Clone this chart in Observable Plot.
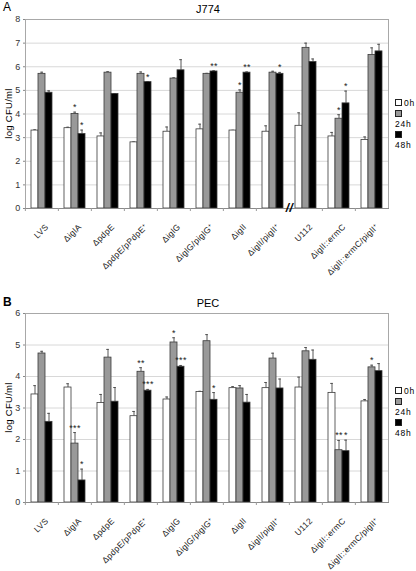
<!DOCTYPE html>
<html><head><meta charset="utf-8">
<script src="https://cdn.jsdelivr.net/npm/d3@7"></script>
<script src="https://cdn.jsdelivr.net/npm/@observablehq/plot@0.6"></script>
<style>
body{margin:0;background:#fff;font-family:"Liberation Sans",Arial,sans-serif;}
#wrap{position:relative;width:416px;height:571px;overflow:hidden;}
.abs{position:absolute;white-space:nowrap;color:#000;}
.panel{position:absolute;left:0;}
.leg{position:absolute;font-size:8.5px;letter-spacing:0.8px;line-height:10.5px;}
.leg span.sq{display:inline-block;width:5px;height:5px;border:1px solid #222;margin-right:2px;vertical-align:0px;}
.ylab{position:absolute;font-size:9.5px;transform:rotate(-90deg);transform-origin:center;letter-spacing:0.3px;}
</style></head>
<body><div id="wrap"></div>
<script>
const groups = ["LVS","ΔiglA","ΔpdpE","ΔpdpE/pPdpE⁺","ΔiglG","ΔiglG/piglG⁺","ΔiglI","ΔiglI/piglI⁺","U112","ΔiglI::ermC","ΔiglI::ermC/piglI⁺"];
const times = ["0h","24h","48h"];

// Panel A: J774
const j774_0h  = [3.3, 3.4, 3.05, 2.8, 3.25, 3.35, 3.3, 3.25, 3.5, 3.05, 2.9];
const j774_24h = [5.7, 4.0, 5.75, 5.7, 5.5, 5.7, 4.9, 5.75, 6.8, 3.8, 6.5];
const j774_48h = [4.9, 3.15, 4.85, 5.35, 5.85, 5.8, 5.75, 5.7, 6.2, 4.45, 6.65];
const j774_err0h  = [0.03, 0.04, 0.15, 0.02, 0.2, 0.22, 0.01, 0.25, 0.55, 0.17, 0.13];
const j774_err24h = [0.07, 0.08, 0.04, 0.08, 0.03, 0.02, 0.12, 0.06, 0.2, 0.17, 0.3];
const j774_err48h = [0.08, 0.17, 0.01, 0.02, 0.45, 0.03, 0.03, 0.06, 0.13, 0.52, 0.3];
const j774_sig24h = ["", "*", "", "", "", "", "*", "", "", "*", ""];
const j774_sig48h = ["", "*", "", "*", "", "**", "**", "*", "", "*", ""];
const j774_yTicks = [0,1,2,3,4,5,6,7,8];

// Panel B: PEC
const pec_0h  = [3.43, 3.65, 3.16, 2.74, 3.27, 3.51, 3.63, 3.63, 3.65, 3.48, 3.21];
const pec_24h = [4.73, 1.87, 4.6, 4.15, 5.08, 5.12, 3.62, 4.57, 4.8, 1.66, 4.29];
const pec_48h = [2.56, 0.7, 3.2, 3.55, 4.31, 3.26, 3.17, 3.62, 4.53, 1.63, 4.17];
const pec_err0h  = [0.28, 0.12, 0.27, 0.15, 0.08, 0.02, 0.05, 0.18, 0.33, 0.3, 0.06];
const pec_err24h = [0.07, 0.35, 0.26, 0.13, 0.15, 0.21, 0.09, 0.17, 0.12, 0.31, 0.07];
const pec_err48h = [0.27, 0.36, 0.45, 0.04, 0.04, 0.23, 0.26, 0.3, 0.31, 0.35, 0.24];
const pec_sig24h = ["", "***", "", "**", "*", "", "", "", "", "**", "*"];
const pec_sig48h = ["", "*", "", "***", "***", "*", "", "", "", "*", ""];
const pec_yTicks = [0,1,2,3,4,5,6];

const fills = ["#ffffff", "#999999", "#000000"];

function rowsOf(m0, m24, m48, e0, e24, e48, s24, s48) {
  const rows = [];
  groups.forEach((g, i) => {
    rows.push({group: g, time: "0h", value: m0[i], err: e0[i], sig: ""});
    rows.push({group: g, time: "24h", value: m24[i], err: e24[i], sig: s24[i]});
    rows.push({group: g, time: "48h", value: m48[i], err: e48[i], sig: s48[i]});
  });
  return rows;
}

function panel({rows, yTicks, height, marginTop, marginBottom, breakAfter}) {
  const W = 416, mL = 23, mR = 27;
  const step = (W - mL - mR) / groups.length;
  const top = d => d.value + d.err;
  const marks = [
    Plot.gridY(yTicks, {stroke: "#d8d8d8", strokeOpacity: 1}),
    Plot.frame({anchor: "top", stroke: "#a8a8a8"}),
    Plot.frame({anchor: "left", facetAnchor: "left", stroke: "#a8a8a8"}),
    Plot.frame({anchor: "right", facetAnchor: "right", stroke: "#a8a8a8"}),
    Plot.ruleX(rows, {fx: "group", x: "time", y1: "value", y2: top, stroke: "#444", strokeWidth: 0.9}),
    Plot.tickY(rows, {fx: "group", x: "time", y: top, stroke: "#444", strokeWidth: 0.9, insetLeft: 2.2, insetRight: 2.2}),
    Plot.barY(rows, {fx: "group", x: "time", y: "value", fill: "time", stroke: "#3a3a3a", strokeWidth: 0.8}),
    Plot.text(rows.filter(d => d.sig), {fx: "group", x: "time", y: top, text: "sig", dy: -2, lineAnchor: "bottom", fontSize: 9, fill: "#222"}),
    Plot.frame({anchor: "bottom", stroke: "#8a8a8a"}),
    Plot.axisY(yTicks, {anchor: "left", tickSize: 2, tickPadding: 3, fontSize: 9, label: null, stroke: "#888", fill: "#333"}),
    Plot.axisFx({anchor: "bottom", tickRotate: -45, tickSize: 0, tickPadding: 17, dx: 5, fontSize: 8.5, label: null, fill: "#222"}),
    Plot.axisFx({anchor: "bottom", tickSize: 3, tickFormat: () => "", dx: -step / 2, label: null, stroke: "#999"})
  ];
  if (breakAfter) {
    marks.push(Plot.text([breakAfter], {fx: d => d, frameAnchor: "bottom-left", text: () => "//", fontSize: 12, fontWeight: "bold", textAnchor: "middle", lineAnchor: "middle", fill: "#000", fontStyle: "italic"}));
  }
  return Plot.plot({
    width: W, height, marginTop, marginBottom, marginLeft: mL, marginRight: mR,
    style: {fontFamily: "'Liberation Sans', Arial, sans-serif", background: "transparent", letterSpacing: "0.3px", overflow: "visible"},
    fx: {domain: groups, padding: 0, axis: null, label: null},
    x: {domain: times, paddingInner: 0, paddingOuter: 0.75, axis: null},
    y: {domain: [yTicks[0], yTicks[yTicks.length - 1]], axis: null},
    color: {domain: times, range: fills},
    marks
  });
}

const wrap = document.getElementById("wrap");

const rowsA = rowsOf(j774_0h, j774_24h, j774_48h, j774_err0h, j774_err24h, j774_err48h, j774_sig24h, j774_sig48h);
const rowsB = rowsOf(pec_0h, pec_24h, pec_48h, pec_err0h, pec_err24h, pec_err48h, pec_sig24h, pec_sig48h);

const svgA = panel({rows: rowsA, yTicks: j774_yTicks, height: 290, marginTop: 19, marginBottom: 82, breakAfter: "U112"});
const svgB = panel({rows: rowsB, yTicks: pec_yTicks, height: 281, marginTop: 23, marginBottom: 69});

const pa = document.createElement("div"); pa.className = "panel"; pa.style.top = "0px"; pa.appendChild(svgA); wrap.appendChild(pa);
const pb = document.createElement("div"); pb.className = "panel"; pb.style.top = "290px"; pb.appendChild(svgB); wrap.appendChild(pb);

function addText(txt, css) {
  const d = document.createElement("div"); d.className = "abs"; d.textContent = txt;
  Object.assign(d.style, css); wrap.appendChild(d); return d;
}
addText("A", {left: "3px", top: "0px", fontSize: "12px"});
addText("J774", {left: "0px", width: "416px", textAlign: "center", top: "3px", fontSize: "11px"});
addText("B", {left: "3px", top: "295px", fontSize: "12px", fontWeight: "bold"});
addText("PEC", {left: "0px", width: "416px", textAlign: "center", top: "297px", fontSize: "11px"});

function ylab(cy) {
  const d = document.createElement("div"); d.className = "ylab"; d.textContent = "log CFU/ml";
  d.style.left = "-22px"; d.style.width = "60px"; d.style.textAlign = "center";
  d.style.top = (cy - 6) + "px"; wrap.appendChild(d);
}
ylab(114); ylab(408);

function legend(topPx) {
  const L = document.createElement("div"); L.className = "leg"; L.style.left = "395px"; L.style.top = topPx + "px";
  times.forEach((t, i) => {
    const row = document.createElement("div");
    const sq = document.createElement("span"); sq.className = "sq"; sq.style.background = fills[i];
    row.appendChild(sq); row.appendChild(document.createTextNode(t)); L.appendChild(row);
  });
  wrap.appendChild(L);
}
legend(98); legend(386);
</script></body></html>
